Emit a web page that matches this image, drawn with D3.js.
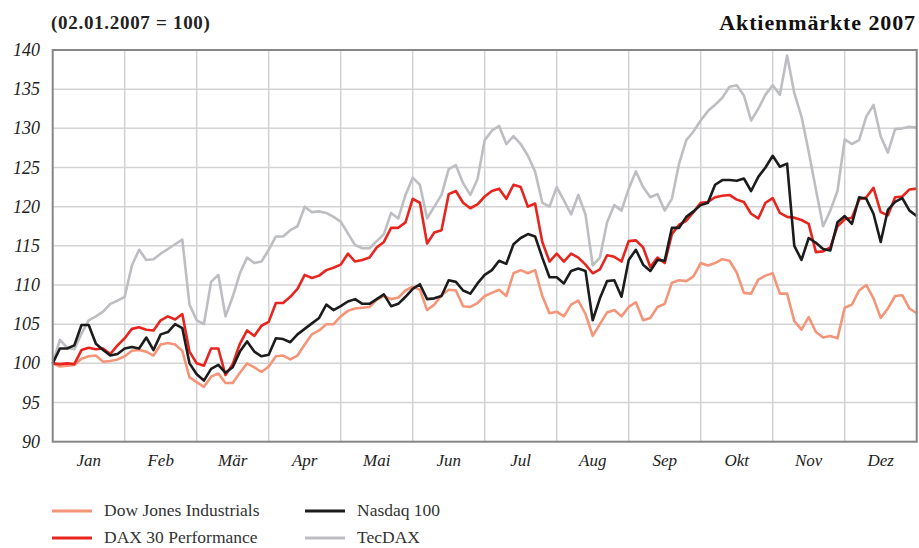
<!DOCTYPE html>
<html>
<head>
<meta charset="utf-8">
<script src="https://cdn.jsdelivr.net/npm/d3@7"></script>
<style>
  body { margin: 0; background: #fff; }
  svg { display: block; font-family: "Liberation Serif", "DejaVu Serif", serif; }
</style>
</head>
<body>
<div id="chart"></div>
<script>
// Months on the x axis
var months = ['Jan', 'Feb', 'Mär', 'Apr', 'Mai', 'Jun', 'Jul', 'Aug', 'Sep', 'Okt', 'Nov', 'Dez'];
var yTicks = [90, 95, 100, 105, 110, 115, 120, 125, 130, 135, 140];

// Index values (02.01.2007 = 100), sampled every 1/10 month
var dowJones = [
  100, 99.6, 99.7, 99.8, 100.6, 100.9, 101, 100.2, 100.3, 100.5,
  100.9, 101.6, 101.7, 101.5, 101, 102.4, 102.6, 102.4, 101.6, 98.2,
  97.6, 97, 98.3, 98.7, 97.5, 97.5, 98.8, 100, 99.5, 98.9,
  99.6, 100.9, 101, 100.5, 101, 102.4, 103.7, 104.2, 105, 105,
  106, 106.7, 107, 107.1, 107.2, 108.1, 108.6, 108.2, 108.4, 109.3,
  109.8, 109.4, 106.8, 107.5, 108.7, 109.4, 109.3, 107.3, 107.2, 107.7,
  108.6, 109, 109.4, 108.6, 111.5, 111.9, 111.5, 111.9, 108.6, 106.4,
  106.6, 106, 107.5, 108, 106.3, 103.5, 105, 106.5, 106.8, 106,
  107.2, 107.8, 105.5, 105.8, 107.2, 107.6, 110.3, 110.6, 110.5, 111.1,
  112.8, 112.5, 112.8, 113.3, 113.1, 111.6, 109, 108.9, 110.7, 111.2,
  111.5, 108.9, 108.9, 105.4, 104.3, 105.9, 104, 103.3, 103.5, 103.2,
  107.1, 107.5, 109.3, 110, 108.3, 105.8, 107, 108.6, 108.7, 107,
  106.4
];
var dax = [
  100, 99.9, 100, 99.9, 101.7, 102, 101.8, 101.9, 101.2, 102.3,
  103.2, 104.4, 104.6, 104.3, 104.2, 105.5, 106, 105.6, 106.3, 101.5,
  100, 99.7, 101.9, 101.9, 98.5, 99.9, 102.5, 104.2, 103.5, 104.8,
  105.3, 107.7, 107.7, 108.5, 109.5, 111.3, 110.9, 111.2, 111.9, 112.2,
  112.6, 114, 113, 113.2, 113.5, 114.8, 115.5, 117.3, 117.3, 118,
  121, 120.5, 115.3, 116.7, 117, 121.6, 122, 120.5, 119.8, 120.3,
  121.3, 122, 122.3, 121, 122.8, 122.5, 120, 120.4, 115.5, 113,
  114, 113, 114, 113.5, 112.6, 111.5, 112, 113.8, 113.6, 113,
  115.6, 115.7, 114.8, 112.3, 113.5, 112.8, 116.5, 117.7, 118.2, 119.3,
  120.5, 120.6, 121.2, 121.4, 121.5, 120.9, 120.6, 119.1, 118.5, 120.5,
  121.1, 119.2, 118.7, 118.6, 118.3, 117.8, 114.2, 114.3, 114.8, 117.5,
  118.4, 118.6, 120.9, 121.2, 122.4, 119.3, 118.9, 121.2, 121.3, 122.2,
  122.3
];
var nasdaq = [
  100, 101.9, 101.9, 102.3, 104.9, 104.9, 102.5, 101.7, 101, 101.2,
  101.9, 102.1, 101.9, 103.3, 101.7, 103.7, 104, 105, 104.5, 100,
  98.6, 97.8, 99.3, 99.8, 98.8, 99.5, 101.5, 102.8, 101.5, 100.9,
  101.1, 103.2, 103.1, 102.7, 103.7, 104.4, 105.1, 105.8, 107.5, 106.8,
  107.3, 107.9, 108.2, 107.6, 107.6, 108.2, 108.8, 107.3, 107.6, 108.5,
  109.5, 110.1, 108.2, 108.3, 108.6, 110.6, 110.4, 109.3, 108.9, 110.2,
  111.3, 111.9, 113.1, 112.7, 115.2, 116, 116.5, 116.2, 113.5, 111,
  111, 110.2, 111.8, 112.1, 111.8, 105.5, 108.3, 110.5, 110.6, 108.5,
  113.2, 114.5, 112.6, 111.8, 113.2, 113.1, 117.3, 117.3, 118.7, 119.4,
  120.2, 120.5, 122.8, 123.4, 123.4, 123.3, 123.6, 122, 123.8, 125,
  126.5, 125.1, 125.5, 115, 113.2, 116, 115.4, 114.6, 114.4, 118,
  118.8, 117.8, 121.2, 121, 119.1, 115.5, 119.6, 120.6, 121.1, 119.5,
  118.8
];
var tecDax = [
  100, 103, 102, 101.8, 103.8, 105.5, 106, 106.6, 107.6, 108,
  108.5, 112.5, 114.5, 113.2, 113.3, 114, 114.6, 115.2, 115.8, 107.5,
  105.5, 105, 110.4, 111.3, 106, 108.5, 111.5, 113.5, 112.8, 113,
  114.5, 116.2, 116.2, 117, 117.5, 120, 119.3, 119.4, 119.2, 118.7,
  118.1, 116.6, 115.1, 114.7, 114.7, 115.6, 116.5, 119.2, 118.5, 121.5,
  123.7, 122.8, 118.5, 120, 121.5, 124.8, 125.3, 123, 121.5, 123.5,
  128.5, 129.7, 130.3, 128, 129, 128, 126.5, 124.5, 120.5, 120,
  122.5, 120.8, 119, 121.5, 119, 112.5, 113.5, 118, 120.2, 119.5,
  122.3, 124.5, 122.5, 121.2, 121.6, 119.5, 121, 125.5, 128.5, 129.6,
  131, 132.2, 133, 133.9, 135.3, 135.5, 134.2, 131, 132.5, 134.3,
  135.5, 134.3, 139.3, 134.5, 131.5, 127, 122.2, 117.5, 119.5, 122,
  128.6, 128, 128.5, 131.5, 133, 129, 126.9, 129.9, 130, 130.2,
  130.1
];

var seriesNames = ['Dow Jones Industrials', 'DAX 30 Performance', 'Nasdaq 100', 'TecDAX'];
var seriesColors = ['#f4957a', '#e8241e', '#1c1c1c', '#bdbec2'];
var seriesValues = [dowJones, dax, nasdaq, tecDax];

var chartWidth = 919;
var chartHeight = 548;
var plotLeft = 52.7, plotRight = 916.7, plotTop = 50, plotBottom = 441.7;

var svg = d3.select('#chart')
    .append('svg')
    .attr('width', chartWidth)
    .attr('height', chartHeight);

// Scales
var scaleMonth = d3.scaleBand()
    .domain(months)
    .range([plotLeft, plotRight]);

var scaleX = d3.scaleLinear()
    .domain([0, dowJones.length - 1])
    .range([plotLeft, plotRight]);

var scaleY = d3.scaleLinear()
    .domain([90, 140])
    .range([plotBottom, plotTop]);

// Grid
var grid = svg.append('g').attr('stroke', '#d3d3d3').attr('stroke-width', 1.5);
grid.selectAll('line.h')
    .data(yTicks.slice(1, -1))
    .enter()
    .append('line')
    .attr('x1', plotLeft).attr('x2', plotRight)
    .attr('y1', function(d) { return scaleY(d); })
    .attr('y2', function(d) { return scaleY(d); });
grid.selectAll('line.v')
    .data(months.slice(1))
    .enter()
    .append('line')
    .attr('y1', plotTop).attr('y2', plotBottom)
    .attr('x1', function(d) { return scaleMonth(d); })
    .attr('x2', function(d) { return scaleMonth(d); });

// Lines (TecDAX at the back)
var line = d3.line()
    .x(function(d, i) { return scaleX(i); })
    .y(function(d) { return scaleY(d); });

[3, 0, 1, 2].forEach(function(k) {
  svg.append('path')
      .datum(seriesValues[k])
      .attr('d', line)
      .attr('fill', 'none')
      .attr('stroke', seriesColors[k])
      .attr('stroke-width', 2.6)
      .attr('stroke-linejoin', 'round');
});

// Frame
svg.append('rect')
    .attr('x', plotLeft).attr('y', plotTop)
    .attr('width', plotRight - plotLeft).attr('height', plotBottom - plotTop)
    .attr('fill', 'none')
    .attr('stroke', '#868686')
    .attr('stroke-width', 2);

// Y labels
svg.selectAll('text.ylab')
    .data(yTicks)
    .enter()
    .append('text')
    .text(function(d) { return d; })
    .attr('x', 40)
    .attr('y', function(d) { return scaleY(d) + 6; })
    .attr('text-anchor', 'end')
    .attr('font-size', 18)
    .attr('font-style', 'italic')
    .attr('fill', '#222');

// Month labels
svg.selectAll('text.mlab')
    .data(months)
    .enter()
    .append('text')
    .text(function(d) { return d; })
    .attr('x', function(d) { return scaleMonth(d) + scaleMonth.bandwidth() / 2; })
    .attr('y', 466)
    .attr('text-anchor', 'middle')
    .attr('font-size', 17)
    .attr('font-style', 'italic')
    .attr('fill', '#222');

// Titles
svg.append('text')
    .text('(02.01.2007 = 100)')
    .attr('x', 51).attr('y', 29)
    .attr('font-size', 19)
    .attr('font-weight', 'bold')
    .attr('letter-spacing', 0.7)
    .attr('fill', '#222');
svg.append('text')
    .text('Aktienmärkte 2007')
    .attr('x', 916).attr('y', 30)
    .attr('text-anchor', 'end')
    .attr('font-size', 22)
    .attr('font-weight', 'bold')
    .attr('letter-spacing', 0.9)
    .attr('fill', '#111');

// Legend
var legend = svg.selectAll('g.legend')
    .data(seriesNames)
    .enter()
    .append('g')
    .attr('transform', function(d, i) {
      return 'translate(' + (i < 2 ? 52 : 305) + ',' + (i % 2 === 0 ? 511 : 538) + ')';
    });
legend.append('line')
    .attr('x1', 0).attr('x2', 40)
    .attr('stroke', function(d, i) { return seriesColors[i]; })
    .attr('stroke-width', 3);
legend.append('text')
    .text(function(d) { return d; })
    .attr('x', 52).attr('y', 5)
    .attr('font-size', 17.5)
    .attr('fill', '#333');
</script>
</body>
</html>
